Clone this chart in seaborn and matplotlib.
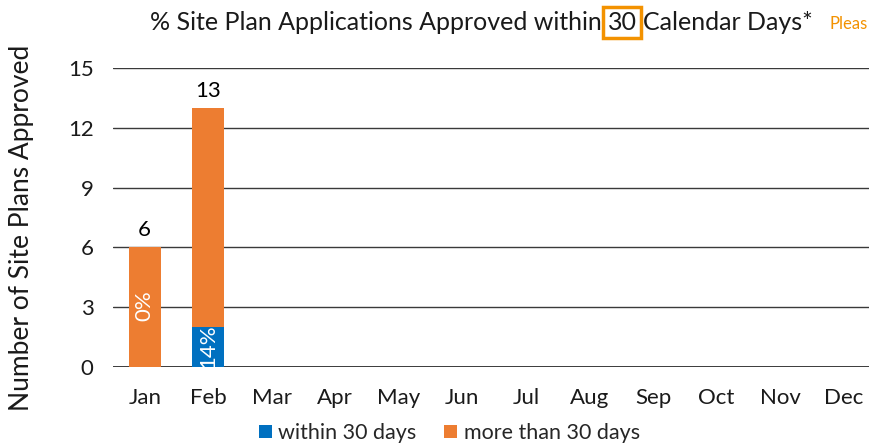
import matplotlib
matplotlib.use("Agg")
import matplotlib.pyplot as plt
import seaborn as sns
import pandas as pd

sns.set_theme(style="white")
plt.rcParams['font.family'] = ['Lato', 'DejaVu Sans']

# data
months = ['Jan', 'Feb', 'Mar', 'Apr', 'May', 'Jun', 'Jul', 'Aug', 'Sep', 'Oct', 'Nov', 'Dec']
within_30 = [0, 2, 0, 0, 0, 0, 0, 0, 0, 0, 0, 0]
over_30 = [6, 11, 0, 0, 0, 0, 0, 0, 0, 0, 0, 0]
pct_labels = ['0%', '14%']

blue = '#0070C0'
orange = '#ED7D31'

df = pd.DataFrame({'month': months, 'within': within_30, 'over': over_30})
df['total'] = df['within'] + df['over']

fig = plt.figure(figsize=(8.69, 4.47), dpi=100)
ax = fig.add_axes([0.130, 0.179, 0.870, 0.669])

# stacked bars: total in orange, within-30 overlaid in blue
sns.barplot(data=df, x='month', y='total', color=orange, width=0.5, ax=ax,
            saturation=1, linewidth=0, label='more than 30 days', zorder=3)
sns.barplot(data=df, x='month', y='within', color=blue, width=0.5, ax=ax,
            saturation=1, linewidth=0, label='within 30 days', zorder=3)

ax.set_ylim(0, 15)
ax.set_xlim(-0.5, 11.4)
ax.set_yticks([0, 3, 6, 9, 12, 15])
ax.yaxis.grid(True, color='#3a3a3a', linewidth=1, zorder=1)
ax.set_axisbelow(True)
for s in ax.spines.values():
    s.set_visible(False)
ax.axhline(0, color='#222222', linewidth=1.2, zorder=2)
ax.tick_params(axis='both', length=0, labelsize=16, colors='#1a1a1a')
ax.tick_params(axis='y', pad=14)
ax.tick_params(axis='x', pad=15)
ax.set_xlabel('')
ax.set_ylabel('')
fig.text(0.025, 0.49, 'Number of Site Plans Approved', rotation=90,
         ha='center', va='center', fontsize=19, color='#1a1a1a')

# total labels above bars
for i, t in enumerate(df['total']):
    if t > 0:
        ax.text(i, t + 0.35, str(t), ha='center', va='bottom', fontsize=16, color='black')

# percent labels inside bars
ax.text(0, 3.1, pct_labels[0], ha='center', va='center', rotation=90,
        color='white', fontsize=16, zorder=4)
ax.text(1, 1.05, pct_labels[1], ha='center', va='center', rotation=90,
        color='white', fontsize=16, zorder=4)

# legend at bottom
h, l = ax.get_legend_handles_labels()
order = [l.index('within 30 days'), l.index('more than 30 days')]
if ax.get_legend():
    ax.get_legend().remove()
fig.legend([h[k] for k in order], [l[k] for k in order], loc='center',
           bbox_to_anchor=(0.517, 0.031), ncol=2, frameon=False, fontsize=15.5,
           handlelength=0.6, handleheight=0.6, handletextpad=0.3, columnspacing=1.3)

# title with boxed "30"
ty = 0.950
fs = 18
fig.text(0.693, ty, '% Site Plan Applications Approved within', ha='right', va='center', fontsize=fs,
         color='#1a1a1a')
fig.text(0.716, ty, '30', ha='center', va='center', fontsize=fs, color='#1a1a1a',
         bbox=dict(boxstyle='square,pad=0.17', facecolor='white', edgecolor='#F39200', linewidth=2.5))
fig.text(0.740, ty, 'Calendar Days*', ha='left', va='center', fontsize=fs, color='#1a1a1a')
fig.text(0.955, ty - 0.004, 'Pleas', ha='left', va='center', fontsize=12, color='#F39200')

fig.savefig('out.png', dpi=100)
